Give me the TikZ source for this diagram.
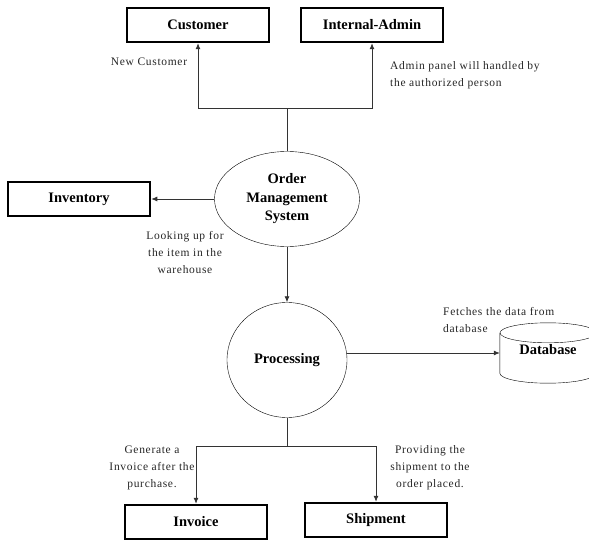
\documentclass[tikz,border=0pt]{standalone}
\usepackage{fontspec}
\setmainfont{Liberation Serif}
\newfontfamily\notefont[LetterSpace=6]{Liberation Serif}
\usetikzlibrary{arrows.meta,shapes.geometric}
\tikzset{>={Latex[length=6pt,width=5pt]}}
\colorlet{linegray}{black!80}
\tikzset{
  entity/.style={draw,line width=2.5pt,minimum width=142pt,minimum height=34pt,inner sep=0pt,
    font=\fontsize{14.5}{17}\selectfont\bfseries},
  process/.style={draw,ellipse,thin,inner sep=0pt,align=center,
    font=\fontsize{14.5}{18.5}\selectfont\bfseries},
  store/.style={minimum width=96pt,minimum height=40pt,inner sep=0pt,
    font=\fontsize{14.5}{17}\selectfont\bfseries},
  note/.style={inner sep=0pt,text=black!85,font=\notefont\fontsize{11.5}{17}\selectfont},
  flow/.style={->,linegray,line width=0.8pt}
}
\begin{document}
\begin{tikzpicture}[x=1pt,y=-1pt]
  \useasboundingbox (0,0) rectangle (589,540);

  % ENTITIES
  \node[entity] (cust)  at (198,25)  {Customer};
  \node[entity] (admin) at (372,25)  {Internal-Admin};
  \node[entity] (inv)   at (79,199)  {Inventory};
  \node[entity] (bill)  at (196,522) {Invoice};
  \node[entity] (ship)  at (376,520) {Shipment};

  % PROCESSES
  \node[process,minimum width=145pt,minimum height=95pt] (oms)  at (287,199) {Order\\Management\\System};
  \node[process,minimum width=120pt,minimum height=115pt] (proc) at (287,360) {Processing};

  % DATA STORE
  \node[store] (db) at (548,353) {\raisebox{8pt}{Database}};
  \draw[thin] (db.north) ellipse [x radius=48,y radius=10];
  \draw[thin] (db.north west) -- (db.south west)
    arc [start angle=180,end angle=0,x radius=48,y radius=10] -- (db.north east);

  % FLOWS
  \coordinate (up)   at (287,108);
  \coordinate (down) at (287,446);
  \draw[linegray,line width=0.8pt] (oms.north) -- (up);
  \draw[flow] (up) -| (cust.south);
  \draw[flow] (up) -| (admin.south);
  \draw[flow] (oms.west) -- (inv.east);
  \draw[flow] (oms.south) -- (proc.north);
  \draw[flow] (db.west -| proc.east) -- (db.west);
  \draw[linegray,line width=0.8pt] (proc.south) -- (down);
  \draw[flow] (down) -| (bill.north);
  \draw[flow] (down) -| (ship.north);

  % NOTES
  \node[note] (n1) at (149,62) {New Customer};
  \node[note,anchor=west,align=left] (n2) at (390,75) {Admin panel will handled by\\the authorized person};
  \node[note,align=center] (n3) at (185,253) {Looking up for\\the item in the\\warehouse};
  \node[note,anchor=west,align=left] (n4) at (443,320) {Fetches the data from\\database};
  \node[note,align=center] (n5) at (152,468) {Generate a\\Invoice after the\\purchase.};
  \node[note,align=center] (n6) at (430,468) {Providing the\\shipment to the\\order placed.};
\end{tikzpicture}
\end{document}
